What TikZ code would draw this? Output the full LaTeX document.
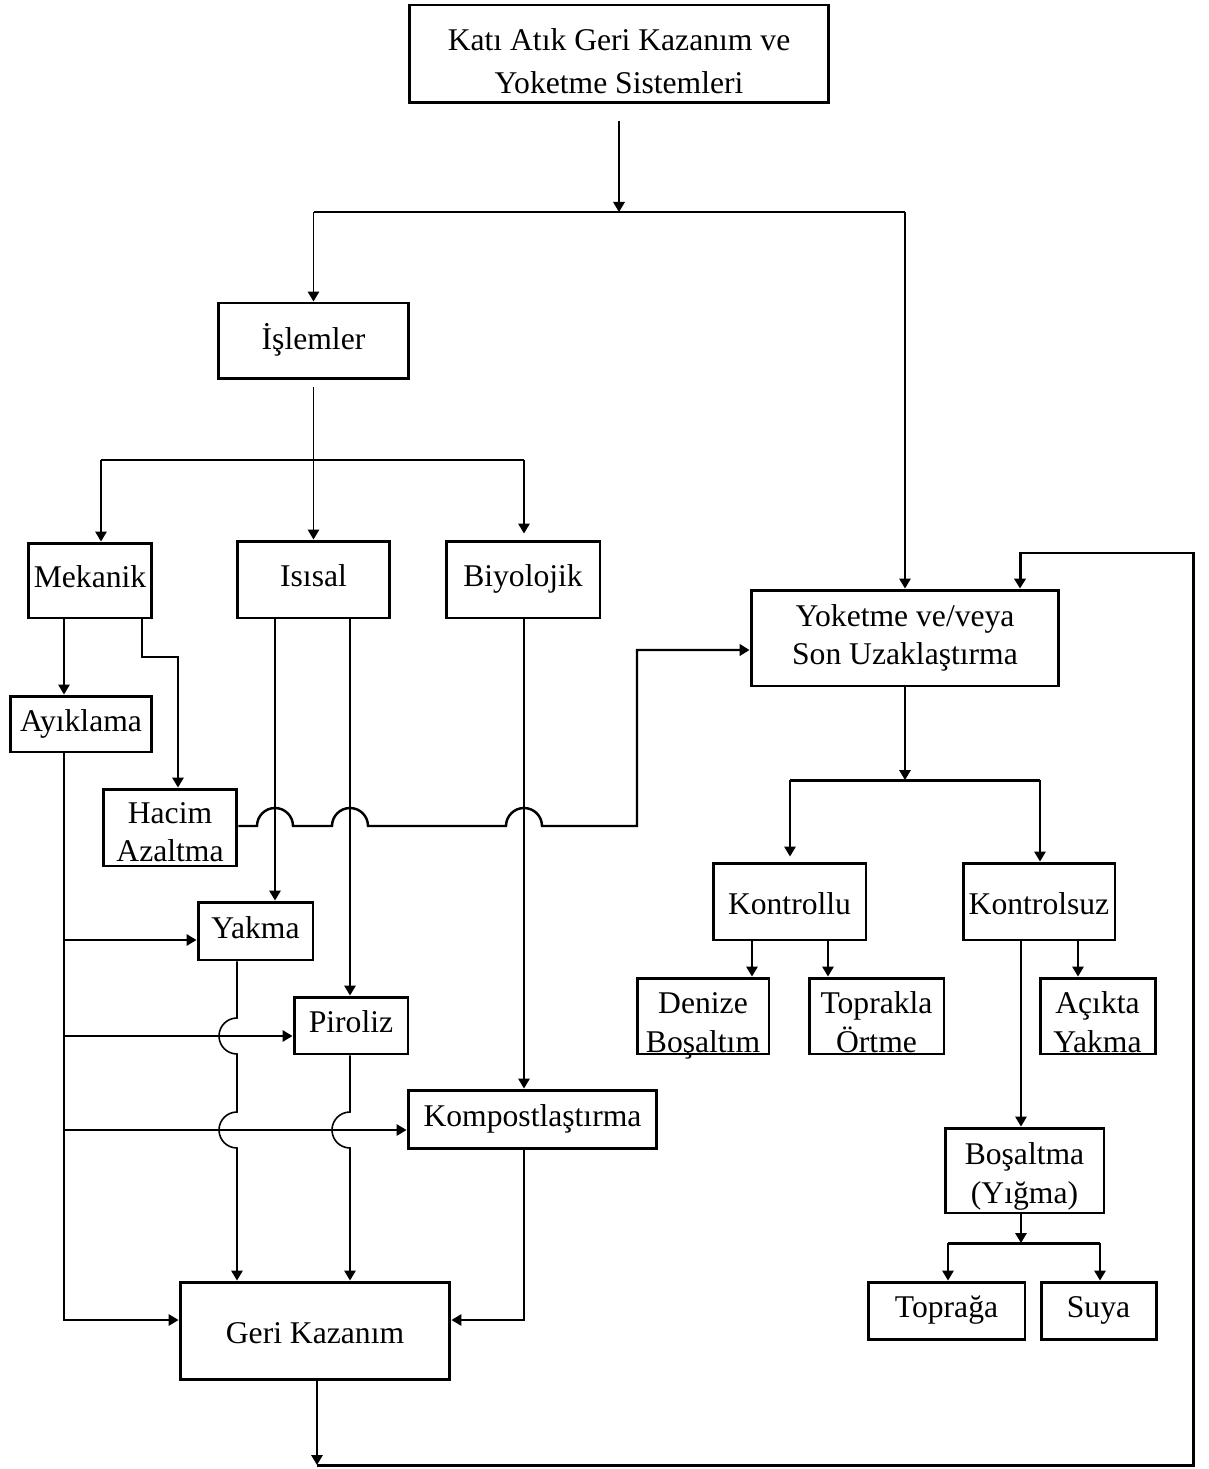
\documentclass[tikz,border=0pt]{standalone}
\usepackage{fontspec}
\setmainfont{Liberation Serif}
\usetikzlibrary{arrows.meta,calc}

\begin{document}
\begin{tikzpicture}[x=0.02cm,y=-0.02cm,
  box/.style={draw,line width=1.7pt,inner sep=0pt,align=center,
    font=\fontsize{18}{22}\selectfont,text height=12.5pt,text depth=4.5pt},
  low/.style={text height=18pt,text depth=3.2pt},
  two/.style={text depth=4pt,text height=#1},
  tip/.style={-{Triangle[length=0.2cm,width=0.23cm]}},
  arr/.style={line width=0.9pt,tip},
  bus/.style={line width=1.7pt},
  line/.style={line width=0.9pt}]
\useasboundingbox (0,0) rectangle (1208,1469);

% boxes
\node[box,minimum width=8.4cm,minimum height=1.96cm,font=\fontsize{18}{25}\selectfont,
  two=49.5pt] (kati) at (619,54) {Katı Atık Geri Kazanım ve\\Yoketme Sistemleri};
\node[box,minimum width=3.82cm,minimum height=1.52cm,text height=14pt] (isl) at (313.5,341) {İşlemler};
\node[box,minimum width=2.48cm,minimum height=1.5cm] (mek) at (90,580.5) {Mekanik};
\node[box,minimum width=3.06cm,minimum height=1.54cm] (isi) at (313.5,579.5) {Isısal};
\node[box,minimum width=3.08cm,minimum height=1.54cm] (biy) at (523,579.5) {Biyolojik};
\node[box,minimum width=2.84cm,minimum height=1.12cm] (ayk) at (81,724) {Ayıklama};
\node[box,two=40pt,text depth=0.9pt,minimum width=2.68cm,minimum height=1.54cm] (hac) at (170,827.5) {Hacim\\Azaltma};
\node[box,minimum width=2.3cm,minimum height=1.16cm] (yak) at (255.5,931) {Yakma};
\node[box,minimum width=2.28cm,minimum height=1.14cm] (pir) at (351,1025.5) {Piroliz};
\node[box,minimum width=4.98cm,minimum height=1.16cm] (kom) at (532.5,1119) {Kompostlaştırma};
\node[box,low,minimum width=5.4cm,minimum height=1.94cm] (geri) at (315,1330.5) {Geri Kazanım};
\node[box,two=34.6pt,minimum width=6.16cm,minimum height=1.92cm] (yok) at (905,638) {Yoketme ve/veya\\Son Uzaklaştırma};
\node[box,low,minimum width=3.06cm,minimum height=1.54cm] (kon) at (789.5,901.5) {Kontrollu};
\node[box,low,minimum width=3.04cm,minimum height=1.54cm] (ksz) at (1039,901.5) {Kontrolsuz};
\node[box,two=42pt,text depth=1pt,minimum width=2.64cm,minimum height=1.52cm] (den) at (703,1016) {Denize\\Boşaltım};
\node[box,two=42pt,text depth=1pt,minimum width=2.7cm,minimum height=1.52cm] (tok) at (876.5,1016) {Toprakla\\Örtme};
\node[box,two=42pt,text depth=1pt,minimum width=2.3cm,minimum height=1.52cm] (ack) at (1097.5,1016) {Açıkta\\Yakma};
\node[box,two=41.4pt,minimum width=3.18cm,minimum height=1.7cm] (bos) at (1024.5,1170.5) {Boşaltma\\(Yığma)};
\node[box,minimum width=3.14cm,minimum height=1.14cm] (tga) at (946.5,1310.5) {Toprağa};
\node[box,minimum width=2.3cm,minimum height=1.14cm] (suy) at (1098.5,1310.5) {Suya};

% columns and rows of the connectors
\foreach \n/\x in {cA/64,cB/101,cC/142,cD/178,cE/237,cF/275,cG/350,cH/524,cI/637,
  cJ/790,cK/1040,cL/752,cM/828,cN/1078,cO/1021,cP/948,cQ/1100,cR/1193,cS/1020,cT/317}
  \coordinate (\n) at (\x,0);
\foreach \n/\y in {r1/212,r2/460,r3/657,r4/826,r5/940,r6/1036,r7/1130,r8/1320,
  r9/1465,r10/553,r11/650,r12/780,r13/1243}
  \coordinate (\n) at (0,\y);

% top level
\draw[arr,shorten <=0.34cm] (kati.south) -- (kati.south |- r1);
\draw[bus] (isl.north |- r1) -- (yok.north |- r1);
\draw[arr] (isl.north |- r1) -- (isl.north);
\draw[arr] (yok.north |- r1) -- (yok.north);

% islemler
\draw[arr,shorten <=0.14cm] (isl.south) -- (isi.north);
\draw[bus] (cB |- r2) -- (cH |- r2);
\draw[arr] (cB |- r2) -- (mek.north -| cB);
\draw[arr,shorten >=0.12cm] (cH |- r2) -- (biy.north -| cH);

% mekanik, isisal, biyolojik
\draw[arr] (mek.south -| cA) -- (ayk.north -| cA);
\draw[arr] (mek.south -| cC) -- (cC |- r3) -| (hac.north -| cD);
\draw[arr] (isi.south -| cF) -- (yak.north -| cF);
\draw[arr] (isi.south -| cG) -- (pir.north -| cG);
\draw[arr] (biy.south -| cH) -- (kom.north -| cH);

% hacim azaltma -> yoketme (hops)
\draw[arr,line width=1.4pt] (hac.east |- r4)
  -- ($(cF |- r4)+(-18,0)$) arc[start angle=180,end angle=0,radius=0.36cm]
  -- ($(cG |- r4)+(-18,0)$) arc[start angle=180,end angle=0,radius=0.36cm]
  -- ($(cH |- r4)+(-18,0)$) arc[start angle=180,end angle=0,radius=0.36cm]
  -- (cI |- r4) |- (yok.west |- r11);

% ayiklama
\draw[arr] (ayk.south -| cA) |- (geri.west |- r8);
\draw[arr] (cA |- r5) -- (yak.west |- r5);
\draw[arr] (cA |- r6) -- (pir.west |- r6);
\draw[arr] (cA |- r7) -- (kom.west |- r7);

% yakma, piroliz, kompost -> geri kazanim
\draw[arr] (yak.south -| cE)
  -- ($(cE |- r6)+(0,-18)$) arc[start angle=90,end angle=270,radius=0.36cm]
  -- ($(cE |- r7)+(0,-18)$) arc[start angle=90,end angle=270,radius=0.36cm]
  -- (geri.north -| cE);
\draw[arr] (pir.south -| cG)
  -- ($(cG |- r7)+(0,-18)$) arc[start angle=90,end angle=270,radius=0.36cm]
  -- (geri.north -| cG);
\draw[arr] (kom.south -| cH) |- (geri.east |- r8);

% return loop
\draw[arr] (geri.south -| cT) -- (cT |- r9);
\draw[bus,tip] (cT |- r9) -| (cR |- r10) -| (yok.north -| cS);

% yoketme
\draw[arr] (yok.south) -- (yok.south |- r12);
\draw[bus] (cJ |- r12) -- (cK |- r12);
\draw[arr,shorten >=0.1cm] (cJ |- r12) -- (kon.north -| cJ);
\draw[arr] (cK |- r12) -- (ksz.north -| cK);
\draw[arr] (kon.south -| cL) -- (den.north -| cL);
\draw[arr] (kon.south -| cM) -- (tok.north -| cM);
\draw[arr] (ksz.south -| cN) -- (ack.north -| cN);
\draw[arr] (ksz.south -| cO) -- (bos.north -| cO);

% bosaltma
\draw[arr] (bos.south -| cO) -- (cO |- r13);
\draw[bus] (cP |- r13) -- (cQ |- r13);
\draw[arr] (cP |- r13) -- (tga.north -| cP);
\draw[arr] (cQ |- r13) -- (suy.north -| cQ);
\end{tikzpicture}
\end{document}
